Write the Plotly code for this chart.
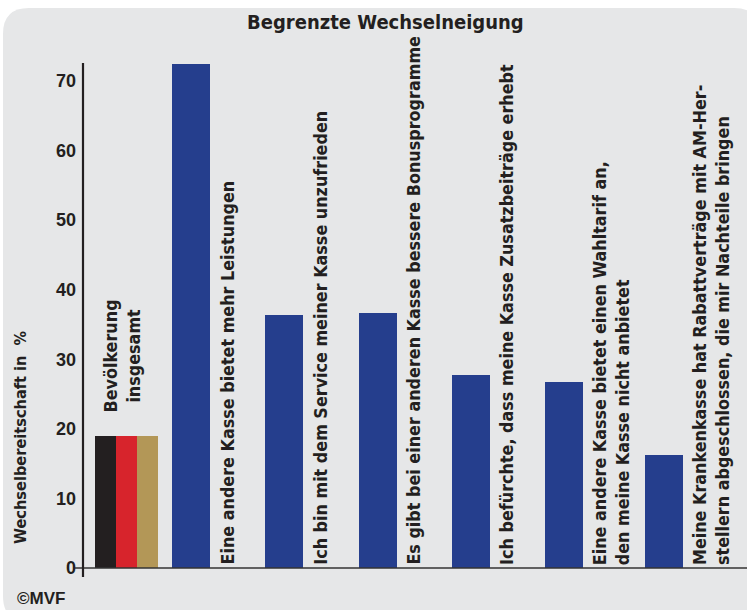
import plotly.graph_objects as go

# ---------------- data ----------------
title_text = "Begrenzte Wechselneigung"
y_title = "Wechselbereitschaft in  %"
overall_label = "Bevölkerung<br>insgesamt"
overall_value = 19.0
reasons = [
    "Eine andere Kasse bietet mehr Leistungen",
    "Ich bin mit dem Service meiner Kasse unzufrieden",
    "Es gibt bei einer anderen Kasse bessere Bonusprogramme",
    "Ich befürchte, dass meine Kasse Zusatzbeiträge erhebt",
    "Eine andere Kasse bietet einen Wahltarif an,<br>den meine Kasse nicht anbietet",
    "Meine Krankenkasse hat Rabattverträge mit AM-Her-<br>stellern abgeschlossen, die mir Nachteile bringen",
]
reason_values = [72.4, 36.4, 36.7, 27.7, 26.8, 16.2]
y_ticks = [0, 10, 20, 30, 40, 50, 60, 70]
source = "©MVF"

# ---------------- layout ----------------
W, H = 747, 610
ML, MR, MT, MB = 83, 0, 63, 42
PW, PH = W - ML - MR, H - MT - MB
slot = 93.3  # px per x unit
x0 = 1 - (191 - ML) / slot
x1 = x0 + PW / slot
reason_pos = [1, 2, 3, 4, 5, 6.07]
flag_center = 0.305
flag_w = 0.225
flag_pos = [flag_center - flag_w, flag_center, flag_center + flag_w]
flag_colors = ["#231f20", "#d7242c", "#b39757"]
blue = "#253e8d"
txt = "#231f20"
bg = "#e6e7e8"
bar_w = 38 / slot
yr = [0, PH / 6.957]

FONT = "Liberation Sans Narrow, Arial Narrow, DejaVu Sans Condensed, sans-serif"
FONT_N = "Liberation Sans, Arial, sans-serif"
LAB_SIZE = 17.8

def px_x(p):
    return (p - ML) / PW

def px_y(p):
    return (H - MB - p) / PH

fig = go.Figure()
for xp, c in zip(flag_pos, flag_colors):
    fig.add_trace(go.Bar(x=[xp], y=[overall_value], width=flag_w, marker=dict(color=c, line=dict(width=0)),
                         showlegend=False, hoverinfo="skip"))
fig.add_trace(go.Bar(x=reason_pos, y=reason_values, width=bar_w, marker=dict(color=blue, line=dict(width=0)),
                     showlegend=False, hoverinfo="skip"))

ann = []
for xp, lab in zip(reason_pos, reasons):
    ann.append(dict(x=xp + bar_w / 2, y=0, xref="x", yref="y", text="<b>%s</b>" % lab, textangle=-90,
                    showarrow=False, xanchor="left", yanchor="bottom", align="left", xshift=4, yshift=1,
                    font=dict(family=FONT, size=LAB_SIZE, color=txt)))
ann.append(dict(x=flag_center, y=overall_value, xref="x", yref="y", text="<b>%s</b>" % overall_label,
                textangle=-90, showarrow=False, xanchor="center", yanchor="bottom", align="center", yshift=21,
                xshift=-4, font=dict(family=FONT, size=LAB_SIZE, color=txt)))
ann.append(dict(x=px_x(20), y=px_y(437), xref="paper", yref="paper", text="<b>%s</b>" % y_title, textangle=-90,
                showarrow=False, xanchor="center", yanchor="middle", font=dict(family=FONT, size=16.2, color=txt)))
ann.append(dict(x=px_x(385), y=px_y(22), xref="paper", yref="paper", text="<b>%s</b>" % title_text,
                showarrow=False, xanchor="center", yanchor="middle", font=dict(family=FONT, size=20, color=txt)))
ann.append(dict(x=px_x(15), y=px_y(598), xref="paper", yref="paper", text="<b>%s</b>" % source,
                showarrow=False, xanchor="left", yanchor="middle", font=dict(family=FONT_N, size=17, color=txt)))

# rounded background panel
r = 26
L, T, R, B = 3, 8, 760, 622
def P(x, y):
    return "%.5f,%.5f" % (px_x(x), px_y(y))
path = ("M " + P(L + r, T) + " L " + P(R - r, T) + " Q " + P(R, T) + " " + P(R, T + r) +
        " L " + P(R, B - r) + " Q " + P(R, B) + " " + P(R - r, B) + " L " + P(L + r, B) +
        " Q " + P(L, B) + " " + P(L, B - r) + " L " + P(L, T + r) + " Q " + P(L, T) + " " + P(L + r, T) + " Z")
shapes = [
    dict(type="path", path=path, xref="paper", yref="paper", fillcolor=bg, line=dict(width=0), layer="below"),
    dict(type="line", xref="paper", yref="paper", x0=px_x(75), x1=1, y0=0, y1=0, line=dict(color="#333333", width=1.6)),
    dict(type="line", xref="paper", yref="paper", x0=0, x1=0, y0=px_y(577), y1=1, line=dict(color=txt, width=2.2)),
]

fig.update_layout(
    width=W, height=H, margin=dict(l=ML, r=MR, t=MT, b=MB),
    paper_bgcolor="white", plot_bgcolor="rgba(0,0,0,0)",
    barmode="overlay", bargap=0,
    xaxis=dict(range=[x0, x1], visible=False, fixedrange=True),
    yaxis=dict(range=yr, tickvals=y_ticks, ticktext=["<b>%d</b>" % v for v in y_ticks], showgrid=False,
               zeroline=False, showline=False, ticks="", ticklabelstandoff=6,
               tickfont=dict(family=FONT_N, size=18, color=txt)),
    annotations=ann, shapes=shapes,
)
fig.write_html("out.html")
